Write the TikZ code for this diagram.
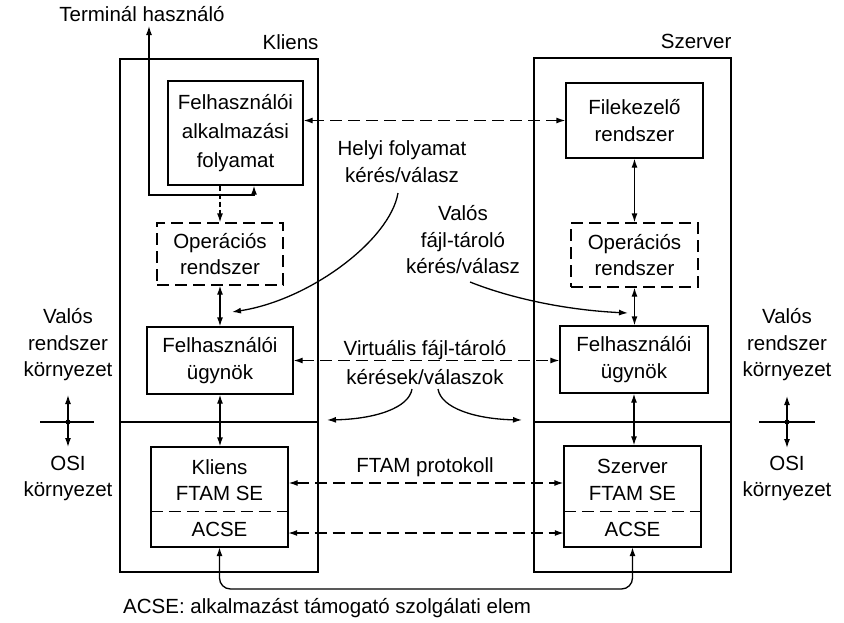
\documentclass[tikz,border=0pt]{standalone}
\usepackage{fontspec}
\setmainfont{Liberation Sans}
\usetikzlibrary{arrows.meta}
\begin{document}
\begin{tikzpicture}[x=1pt,y=-1pt,
  every node/.style={font=\fontsize{20.5}{26.5}\selectfont, align=center, inner sep=0pt},
  box/.style={draw, line width=1.3pt},
  dbox/.style={draw, line width=1.3pt, dash pattern=on 12pt off 6pt},
  plain/.style={line width=1.3pt},
  divider/.style={line width=1.3pt, dash pattern=on 12pt off 6pt},
  arr/.style={line width=1.3pt, -{Latex[length=9pt,width=6pt]}},
  darr/.style={line width=1.3pt, {Latex[length=9pt,width=6pt]}-{Latex[length=9pt,width=6pt]}},
  dasharr/.style={darr, dash pattern=on 12pt off 6pt},
  shortdash/.style={arr, dash pattern=on 5pt off 3pt},
]
\useasboundingbox (0,0) rectangle (844,622);

% the two end systems
\node[box, minimum width=198pt, minimum height=513pt] (client) at (219,315.5) {};
\node[box, minimum width=197pt, minimum height=514pt] (server) at (632.5,315) {};
\node[anchor=base east] (klabel) at ([yshift=9pt]client.north east) {Kliens};
\node[anchor=base east] (slabel) at ([yshift=9pt]server.north east) {Szerver};

% boundary between real system and OSI environment
\coordinate (envline) at (0,422);
\draw[plain] (client.west |- envline) -- (client.east |- envline);
\draw[plain] (server.west |- envline) -- (server.east |- envline);

% client side
\node[box, minimum width=135pt, minimum height=104pt, font=\fontsize{20.5}{29}\selectfont] (app) at (235.5,133) {Felhasználói\\alkalmazási\\folyamat};
\node[dbox, minimum width=126pt, minimum height=62pt] (clos) at (220,254) {Operációs\\rendszer};
\node[box, minimum width=146pt, minimum height=67pt] (clagent) at (220,360.5) {Felhasználói\\ügynök};
\node[box, minimum width=137pt, minimum height=100pt] (clftam) at (219.5,497) {};
\node (clftamtxt) at (219.5,480) {Kliens\\FTAM SE};
\node[minimum width=137pt, minimum height=35pt] (clacse) at (219.5,529.5) {ACSE};
\draw[divider] (clacse.north west) -- (clacse.north east);

% server side
\node[box, minimum width=137pt, minimum height=75pt] (fsys) at (634.5,120.5) {Filekezelő\\rendszer};
\node[dbox, minimum width=127pt, minimum height=64pt] (svos) at (634.5,255) {Operációs\\rendszer};
\node[box, minimum width=148pt, minimum height=67pt] (svagent) at (634,359.5) {Felhasználói\\ügynök};
\node[box, minimum width=137pt, minimum height=101pt] (svftam) at (632.5,496.5) {};
\node (svftamtxt) at (632.5,480) {Szerver\\FTAM SE};
\node[minimum width=137pt, minimum height=35pt] (svacse) at (632.5,529.5) {ACSE};
\draw[divider] (svacse.north west) -- (svacse.north east);

% terminal user
\node (termtxt) at (142,14) {Terminál használó};
\coordinate (termtip) at (149,26);
\coordinate (tcorner) at (149,195);
\draw[darr] (termtip) -- (tcorner) -| ([xshift=18.5pt]app.south);

% vertical links inside the systems
\draw[shortdash] (app.south -| clos.north) -- (clos.north);
\draw[darr] (clos.south) -- (clagent.north);
\draw[darr] (clagent.south) -- (clagent.south |- clftam.north);
\draw[darr] (fsys.south) -- (svos.north);
\draw[darr] (svos.south) -- (svos.south |- svagent.north);
\draw[darr] (svagent.south) -- (svagent.south |- svftam.north);

% peer relations
\coordinate (ftamrow) at (0,483);
\coordinate (acserow) at (0,533);
\draw[dasharr] (app.east |- fsys.west) -- (fsys.west);
\draw[dasharr] (clagent.east) -- (clagent.east -| svagent.west);
\draw[dasharr] (clftam.east |- ftamrow) -- (svftam.west |- ftamrow);
\draw[dasharr] (clacse.east |- acserow) -- (svacse.west |- acserow);

% ACSE association loop
\coordinate (loopy) at (0,589);
\draw[darr, rounded corners=11pt] (clacse.south) -- (clacse.south |- loopy) -- (svacse.south |- loopy) -- (svacse.south);

% annotations
\node (helyi) at (402,161.5) {Helyi folyamat\\kérés/válasz};
\node (valos) at (463,240) {Valós\\fájl-tároló\\kérés/válasz};
\node[font=\fontsize{20.5}{29}\selectfont] (virt) at (425,362.5) {Virtuális fájl-tároló\\kérések/válaszok};
\node (ftamp) at (425,467) {FTAM protokoll};

\coordinate (hstart) at (398,193);
\coordinate (hend) at (232,312);
\draw[arr] (hstart) .. controls (390,240) and (310,300) .. (hend);
\coordinate (vstart) at (470,282);
\coordinate (vend) at (628,313);
\draw[arr] (vstart) .. controls (510,298) and (565,310) .. (vend);
\coordinate (vlstart) at (412,389);
\coordinate (vlend) at (327,420);
\draw[arr] (vlstart) .. controls (409,408) and (375,419) .. (vlend);
\coordinate (vrstart) at (438,389);
\coordinate (vrend) at (522,420);
\draw[arr] (vrstart) .. controls (441,408) and (475,419) .. (vrend);

% environment legends with boundary markers
\node (lreal) at (68,345) {Valós\\rendszer\\környezet};
\node (losi) at (68,478.5) {OSI\\környezet};
\coordinate (lc) at (68,422);
\draw[plain] ([xshift=-28pt]lc) -- ([xshift=26pt]lc);
\draw[darr] ([yshift=27pt]lc) -- ([yshift=-25pt]lc);
\fill (lc) circle (2.5pt);

\node (rreal) at (787,345) {Valós\\rendszer\\környezet};
\node (rosi) at (787,478.5) {OSI\\környezet};
\coordinate (rc) at (787,422);
\draw[plain] ([xshift=-28pt]rc) -- ([xshift=28pt]rc);
\draw[darr] ([yshift=26pt]rc) -- ([yshift=-26pt]rc);
\fill (rc) circle (2.5pt);

\node[anchor=west] (caption) at (123,608) {ACSE: alkalmazást támogató szolgálati elem};
\end{tikzpicture}
\end{document}
